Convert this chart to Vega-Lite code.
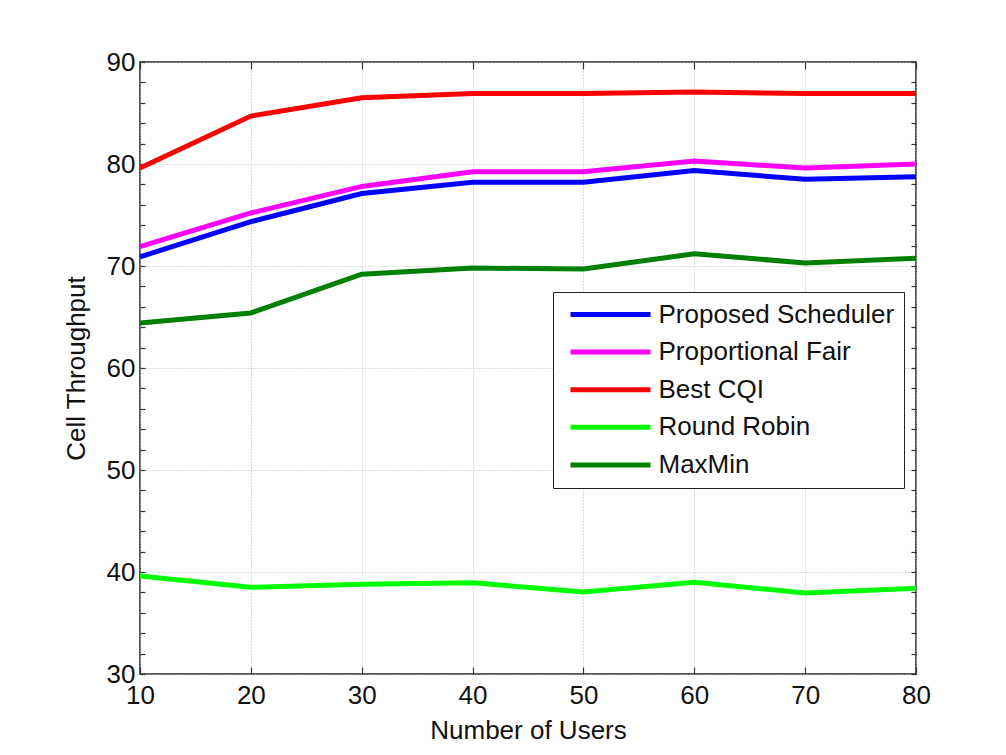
{
  "$schema": "https://vega.github.io/schema/vega-lite/v6.json",
  "width": 776,
  "height": 612,
  "autosize": {"type": "none"},
  "padding": {"left": 140, "top": 62, "right": 90, "bottom": 81},
  "background": "white",
  "config": {
    "font": "Liberation Sans",
    "view": {"stroke": "#222", "strokeWidth": 1.5},
    "axis": {
      "labelFontSize": 26, "labelColor": "#111", "titleFontSize": 26, "titleFontWeight": "normal",
      "titleColor": "#111", "domain": false, "tickColor": "#333", "tickWidth": 1.2,
      "gridColor": "#bbb", "gridDash": [1, 2], "gridWidth": 1
    }
  },
  "data": {
    "values": [
      {"users": 10, "scheme": "Proposed Scheduler", "throughput": 70.9},
      {"users": 20, "scheme": "Proposed Scheduler", "throughput": 74.35},
      {"users": 30, "scheme": "Proposed Scheduler", "throughput": 77.1},
      {"users": 40, "scheme": "Proposed Scheduler", "throughput": 78.2},
      {"users": 50, "scheme": "Proposed Scheduler", "throughput": 78.2},
      {"users": 60, "scheme": "Proposed Scheduler", "throughput": 79.35},
      {"users": 70, "scheme": "Proposed Scheduler", "throughput": 78.5},
      {"users": 80, "scheme": "Proposed Scheduler", "throughput": 78.75},
      {"users": 10, "scheme": "Proportional Fair", "throughput": 71.9},
      {"users": 20, "scheme": "Proportional Fair", "throughput": 75.2},
      {"users": 30, "scheme": "Proportional Fair", "throughput": 77.8},
      {"users": 40, "scheme": "Proportional Fair", "throughput": 79.25},
      {"users": 50, "scheme": "Proportional Fair", "throughput": 79.25},
      {"users": 60, "scheme": "Proportional Fair", "throughput": 80.3},
      {"users": 70, "scheme": "Proportional Fair", "throughput": 79.6},
      {"users": 80, "scheme": "Proportional Fair", "throughput": 80.0},
      {"users": 10, "scheme": "Best CQI", "throughput": 79.6},
      {"users": 20, "scheme": "Best CQI", "throughput": 84.7},
      {"users": 30, "scheme": "Best CQI", "throughput": 86.5},
      {"users": 40, "scheme": "Best CQI", "throughput": 86.9},
      {"users": 50, "scheme": "Best CQI", "throughput": 86.9},
      {"users": 60, "scheme": "Best CQI", "throughput": 87.05},
      {"users": 70, "scheme": "Best CQI", "throughput": 86.9},
      {"users": 80, "scheme": "Best CQI", "throughput": 86.9},
      {"users": 10, "scheme": "Round Robin", "throughput": 39.6},
      {"users": 20, "scheme": "Round Robin", "throughput": 38.5},
      {"users": 30, "scheme": "Round Robin", "throughput": 38.8},
      {"users": 40, "scheme": "Round Robin", "throughput": 38.95},
      {"users": 50, "scheme": "Round Robin", "throughput": 38.05},
      {"users": 60, "scheme": "Round Robin", "throughput": 39.0},
      {"users": 70, "scheme": "Round Robin", "throughput": 37.95},
      {"users": 80, "scheme": "Round Robin", "throughput": 38.4},
      {"users": 10, "scheme": "MaxMin", "throughput": 64.4},
      {"users": 20, "scheme": "MaxMin", "throughput": 65.4},
      {"users": 30, "scheme": "MaxMin", "throughput": 69.2},
      {"users": 40, "scheme": "MaxMin", "throughput": 69.8},
      {"users": 50, "scheme": "MaxMin", "throughput": 69.7},
      {"users": 60, "scheme": "MaxMin", "throughput": 71.2},
      {"users": 70, "scheme": "MaxMin", "throughput": 70.3},
      {"users": 80, "scheme": "MaxMin", "throughput": 70.75}
    ]
  },
  "layer": [
    {
      "mark": {"type": "line", "strokeWidth": 5, "clip": true},
      "encoding": {
        "x": {
          "field": "users", "type": "quantitative",
          "scale": {"domain": [10, 80], "nice": false, "zero": false},
          "axis": {
            "orient": "bottom", "title": "Number of Users",
            "values": [10, 20, 30, 40, 50, 60, 70, 80],
            "tickSize": -7, "labelPadding": 15, "titlePadding": 9, "grid": true,
            "labelFlush": false, "labelBound": false, "labelOverlap": false
          }
        },
        "y": {
          "field": "throughput", "type": "quantitative",
          "scale": {"domain": [30, 90], "nice": false, "zero": false},
          "axis": {
            "orient": "left", "title": "Cell Throughput",
            "values": [30, 32, 34, 36, 38, 40, 42, 44, 46, 48, 50, 52, 54, 56, 58, 60, 62, 64, 66, 68, 70, 72, 74, 76, 78, 80, 82, 84, 86, 88, 90],
            "labelExpr": "datum.value % 10 === 0 ? datum.label : ''",
            "labelOverlap": false, "labelFlush": false, "labelBound": false,
            "tickSize": -5, "labelPadding": 10, "titlePadding": 17, "grid": true,
            "gridOpacity": {"condition": {"test": "datum.value % 10 === 0", "value": 1}, "value": 0}
          }
        },
        "color": {
          "field": "scheme", "type": "nominal",
          "scale": {
            "domain": ["Proposed Scheduler", "Proportional Fair", "Best CQI", "Round Robin", "MaxMin"],
            "range": ["#0000ff", "#ff00ff", "#ff0000", "#00ff00", "#007f00"]
          },
          "legend": {
            "title": null, "orient": "none", "legendX": 413, "legendY": 230,
            "strokeColor": "#222", "fillColor": "white", "padding": 9.5,
            "symbolType": "M-0.5,0H7.5", "symbolStrokeWidth": 5, "symbolSize": 400,
            "labelFontSize": 26, "labelColor": "#111", "rowPadding": 11.6, "labelOffset": 70,
            "labelLimit": 400
          }
        }
      }
    },
    {
      "mark": {"type": "line", "opacity": 0},
      "encoding": {
        "x": {
          "field": "users", "type": "quantitative",
          "scale": {"domain": [10, 80], "nice": false, "zero": false},
          "axis": {"orient": "top", "title": null, "labels": false, "values": [10, 20, 30, 40, 50, 60, 70, 80], "tickSize": -7, "grid": false}
        },
        "y": {
          "field": "throughput", "type": "quantitative",
          "scale": {"domain": [30, 90], "nice": false, "zero": false},
          "axis": {
            "orient": "right", "title": null, "labels": false, "grid": false, "tickSize": -5,
            "values": [30, 32, 34, 36, 38, 40, 42, 44, 46, 48, 50, 52, 54, 56, 58, 60, 62, 64, 66, 68, 70, 72, 74, 76, 78, 80, 82, 84, 86, 88, 90]
          }
        },
        "detail": {"field": "scheme", "type": "nominal"}
      }
    }
  ],
  "resolve": {"axis": {"x": "independent", "y": "independent"}}
}
